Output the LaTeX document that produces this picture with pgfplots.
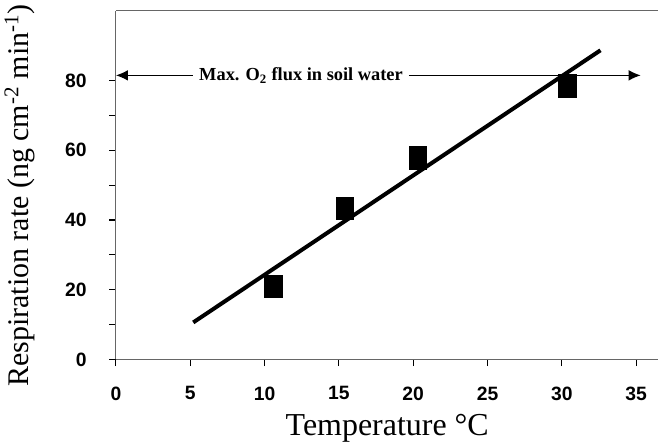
\documentclass[border=0pt]{standalone}
\usepackage{pgfplots}
\pgfplotsset{compat=1.18}
\usepackage{fontspec}
\setmainfont{Liberation Serif}
\setsansfont{Liberation Sans}
\usetikzlibrary{arrows.meta}

% measured respiration rates
\pgfplotstableread{
temp rate
10.6 21.0
15.4 43.3
20.3 57.8
30.35 78.5
}\resp

\begin{document}
\begin{tikzpicture}
\begin{axis}[
    scale only axis,
    width=407.5pt,
    height=261.75pt,
    xmin=0, xmax=36.5,
    ymin=0, ymax=100,
    axis lines=left,
    axis line style={gray!80!black, line width=0.8pt, -},
    xtick={0,5,...,35},
    ytick={0,20,...,80},
    minor y tick num=1,
    tick align=outside,
    major tick length=5pt,
    minor tick length=5pt,
    tick style={black, line width=0.8pt},
    /pgf/number format/assume math mode=true,
    tick label style={font=\sffamily\bfseries\fontsize{14.5}{17}\selectfont},
    xticklabel style={yshift=-12pt},
    yticklabel style={xshift=-13.5pt},
    xlabel={Temperature °C},
    ylabel={Respiration rate (ng cm\textsuperscript{-2} min\textsuperscript{-1})},
    xlabel style={at={(axis description cs:0.5,-0.2178)}, anchor=base, font=\fontsize{24}{28}\selectfont},
    ylabel style={at={(axis description cs:-0.1615,0.47)}, anchor=base, font=\fontsize{22.5}{27}\selectfont},
    clip=false,
]
\draw[gray!80!black, line width=0.8pt] (rel axis cs:0,1) -- (rel axis cs:1,1);
% fitted line
\addplot[black, line width=3pt, no marks] coordinates {(5.2,10.6) (32.6,88.7)};
% data
\addplot[only marks, mark=square*, mark size=6.65pt, mark options={black, yscale=1.27}]
    table[x=temp, y=rate] {\resp};
% max O2 flux annotation
\addplot[black, line width=0.8pt, {Latex[length=9pt,width=8pt]}-, no marks] coordinates {(0,81.5) (5.2,81.5)};
\addplot[black, line width=0.8pt, -{Latex[length=9pt,width=8pt]}, no marks] coordinates {(19.7,81.5) (35.3,81.5)};
\node[font=\bfseries\fontsize{13.8}{16}\selectfont, inner sep=0pt] at (axis cs:12.45,81.5) {Max. O\textsubscript{2} flux in soil water};
\end{axis}
\end{tikzpicture}
\end{document}
